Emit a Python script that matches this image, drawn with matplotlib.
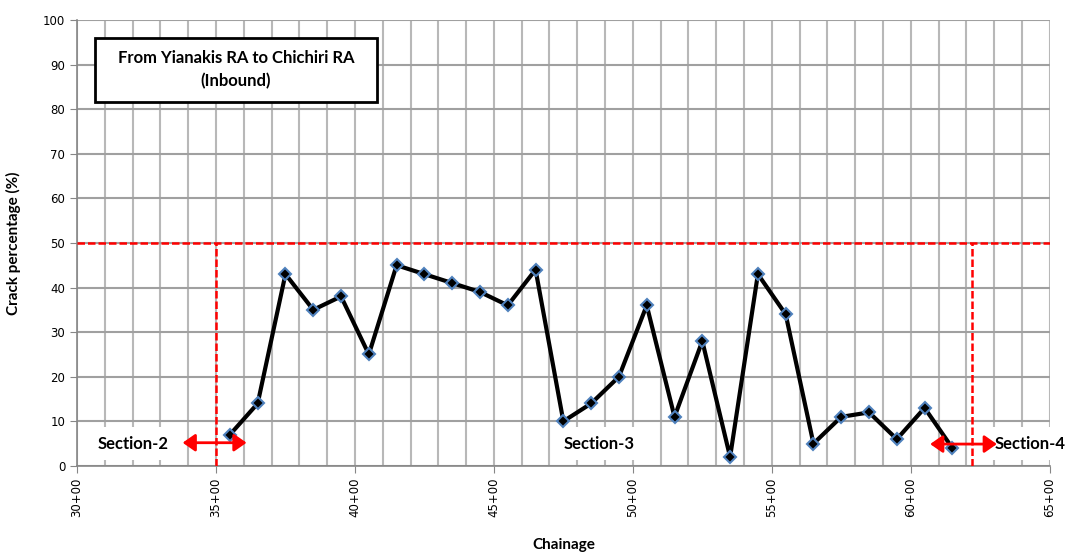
import matplotlib.pyplot as plt
from matplotlib.ticker import MultipleLocator, FuncFormatter
from matplotlib.patches import FancyArrowPatch, Rectangle

# chainage (hundreds of m) and crack percentage
chainage = [35.5, 36.5, 37.5, 38.5, 39.5, 40.5, 41.5, 42.5, 43.5, 44.5, 45.5, 46.5, 47.5,
            48.5, 49.5, 50.5, 51.5, 52.5, 53.5, 54.5, 55.5, 56.5, 57.5, 58.5, 59.5, 60.5, 61.5]
crack = [7, 14, 43, 35, 38, 25, 45, 43, 41, 39, 36, 44, 10,
         14, 20, 36, 11, 28, 2, 43, 34, 5, 11, 12, 6, 13, 4]

limite = 50
sec_limites = [35.0, 62.2]

fig = plt.figure(figsize=(10.7, 5.54), dpi=100)
ax = fig.add_axes([0.072, 0.159, 0.909, 0.805])

ax.set_xlim(30, 65)
ax.set_ylim(0, 100)
ax.xaxis.set_major_locator(MultipleLocator(5))
ax.xaxis.set_minor_locator(MultipleLocator(1))
ax.yaxis.set_major_locator(MultipleLocator(10))
ax.xaxis.set_major_formatter(FuncFormatter(lambda v, p: f"{int(v)}+00"))

ax.grid(True, which="both", axis="x", color="#b8b8b8", lw=1.5)
ax.grid(True, which="major", axis="y", color="#a0a0a0", lw=1.5)
ax.set_axisbelow(True)

for s in ("top", "right"):
    ax.spines[s].set_visible(False)
for s in ("left", "bottom"):
    ax.spines[s].set_color("#868686")
    ax.spines[s].set_linewidth(1.2)

ax.tick_params(axis="x", which="major", labelrotation=90, labelsize=8.5, length=5, color="#868686")
ax.tick_params(axis="x", which="minor", length=0)
ax.tick_params(axis="y", labelsize=8.5, length=5, color="#868686")

# linhas limite
ax.axhline(limite, color="red", ls=(0, (3, 1.2)), lw=1.8, zorder=3)
for xl in sec_limites:
    ax.plot([xl, xl], [0, limite], color="red", ls=(0, (3, 1.2)), lw=1.8, zorder=3)

ax.plot(chainage, crack, color="black", lw=3, marker="D", ms=6,
        mfc="black", mec="#4f81bd", mew=1.5, zorder=5)

bold = dict(fontfamily="Lato", fontweight="bold")
ax.set_ylabel("Crack percentage (%)", fontsize=11, labelpad=16, **bold)
ax.set_xlabel("Chainage", fontsize=11, labelpad=15, **bold)

# caixa do titulo
ax.add_patch(Rectangle((30.65, 81.6), 10.15, 14.4, fc="white", ec="black", lw=2, zorder=6))
ax.text(35.72, 88.8, "From Yianakis RA to Chichiri RA\n(Inbound)", ha="center", va="center",
        fontsize=12, linespacing=1.5, zorder=7, **bold)

# secoes
caixa = dict(boxstyle="square,pad=0.5", fc="white", ec="none")
ax.text(32.0, 5, "Section-2", ha="center", va="center", fontsize=12, zorder=4, bbox=caixa, **bold)
ax.text(48.8, 5, "Section-3", ha="center", va="center", fontsize=12, zorder=4, bbox=caixa, **bold)
ax.text(64.3, 5, "Section-4", ha="center", va="center", fontsize=12, zorder=4,
        clip_on=False, bbox=caixa, **bold)

for x0, x1, y in [(33.7, 36.2, 5.2), (60.6, 63.2, 4.9)]:
    ax.add_patch(FancyArrowPatch((x0, y), (x1, y), arrowstyle="<|-|>,head_length=5,head_width=3.5",
                                 color="red", lw=2, mutation_scale=1.5, zorder=6, clip_on=False))

fig.savefig("out.png", dpi=100)
